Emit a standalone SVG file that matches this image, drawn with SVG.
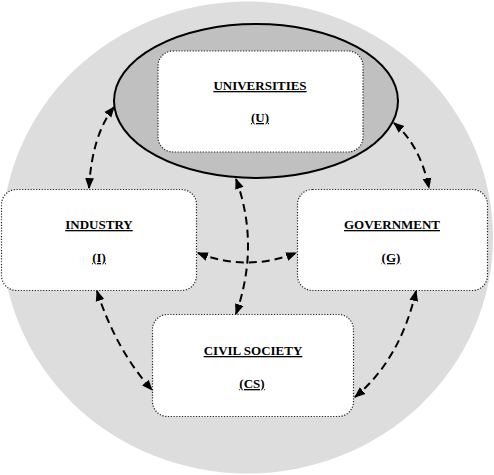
<svg xmlns="http://www.w3.org/2000/svg" width="494" height="475" viewBox="0 0 494 475">
<style>
.box{fill:#fff;stroke:#222;stroke-width:1.2;stroke-dasharray:1.2 1.6}
.lbl{font-family:'Liberation Serif','Times New Roman',serif;font-weight:bold;font-size:13px;text-anchor:middle;text-decoration:underline;fill:#000}
.con{fill:none;stroke:#000;stroke-width:2;stroke-dasharray:8 5}
</style>
<defs>
<marker id="ah" viewBox="0 0 10 10" refX="9" refY="5" markerWidth="5.5" markerHeight="5.5" orient="auto-start-reverse" markerUnits="strokeWidth">
<path d="M0,1 L10,5 L0,9 z" fill="#000"/>
</marker>
</defs>
<ellipse id="outer" cx="247.5" cy="237.5" rx="245.5" ry="236" fill="#dddddd"/>
<g id="universities">
<ellipse cx="256" cy="101" rx="142" ry="77" fill="#c0c0c0" stroke="#000" stroke-width="2"/>
<rect class="box" x="158" y="51" width="205" height="101" rx="15"/>
<text class="lbl" x="260" y="90" font-family="Liberation Serif">UNIVERSITIES</text>
<text class="lbl" x="260" y="122" font-family="Liberation Serif">(U)</text>
</g>
<g id="industry">
<rect class="box" x="1.5" y="189.5" width="195" height="101" rx="15"/>
<text class="lbl" x="99" y="229" font-family="Liberation Serif">INDUSTRY</text>
<text class="lbl" x="99" y="262" font-family="Liberation Serif">(I)</text>
</g>
<g id="government">
<rect class="box" x="297.5" y="189.5" width="190" height="101" rx="15"/>
<text class="lbl" x="392" y="229" font-family="Liberation Serif">GOVERNMENT</text>
<text class="lbl" x="391" y="262" font-family="Liberation Serif">(G)</text>
</g>
<g id="civil-society">
<rect class="box" x="152.5" y="314.5" width="201" height="102" rx="15"/>
<text class="lbl" x="253" y="355" font-family="Liberation Serif">CIVIL SOCIETY</text>
<text class="lbl" x="252" y="388" font-family="Liberation Serif">(CS)</text>
</g>
<g id="connectors">
<path class="con" d="M114,107 Q92,135 89,188" marker-start="url(#ah)" marker-end="url(#ah)"/>
<path class="con" d="M394,123 Q420,145 429,188" marker-start="url(#ah)" marker-end="url(#ah)"/>
<path class="con" d="M236,179 Q260,245 236,314" marker-start="url(#ah)" marker-end="url(#ah)"/>
<path class="con" d="M198,253 Q247,272 296,253" marker-start="url(#ah)" marker-end="url(#ah)"/>
<path class="con" d="M97,291 Q116,350 152,390" marker-start="url(#ah)" marker-end="url(#ah)"/>
<path class="con" d="M416,291 Q400,360 355,397" marker-start="url(#ah)" marker-end="url(#ah)"/>
</g>
</svg>
